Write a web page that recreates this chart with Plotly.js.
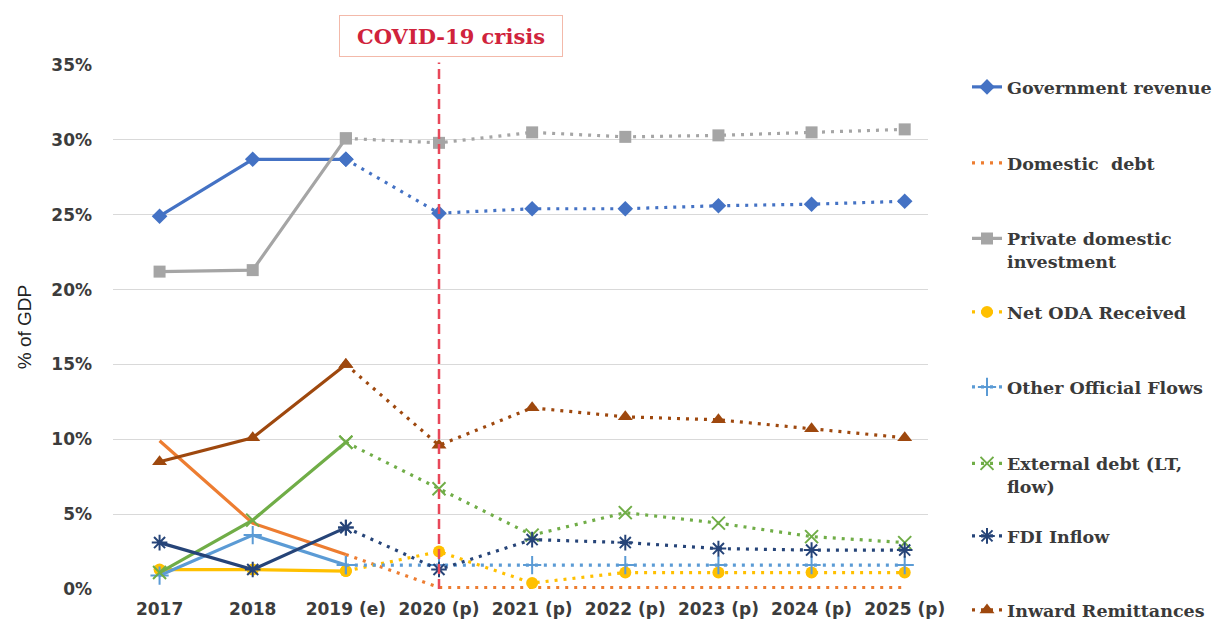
<!DOCTYPE html>
<html>
<head>
<meta charset="utf-8">
<script src="https://cdn.plot.ly/plotly-3.0.1.min.js"></script>
<style>html,body{margin:0;padding:0;background:#fff;}#chart{width:1229px;height:622px;}</style>
</head>
<body>
<div id="chart"></div>
<script>
// ---- data ----
const years = ['2017', '2018', '2019 (e)', '2020 (p)', '2021 (p)', '2022 (p)', '2023 (p)', '2024 (p)', '2025 (p)'];
const govRevenue = [24.9, 28.7, 28.7, 25.1, 25.4, 25.4, 25.6, 25.7, 25.9];
const domesticDebt = [9.9, 4.4, 2.3, 0.1, 0.1, 0.1, 0.1, 0.1, 0.1];
const privateInvestment = [21.2, 21.3, 30.1, 29.8, 30.5, 30.2, 30.3, 30.5, 30.7];
const netODA = [1.3, 1.3, 1.2, 2.5, 0.4, 1.1, 1.1, 1.1, 1.1];
const otherOfficialFlows = [0.9, 3.6, 1.6, 1.6, 1.6, 1.6, 1.6, 1.6, 1.6];
const externalDebt = [1.1, 4.6, 9.8, 6.7, 3.6, 5.1, 4.4, 3.5, 3.1];
const fdiInflow = [3.1, 1.3, 4.1, 1.3, 3.3, 3.1, 2.7, 2.6, 2.6];
const remittances = [8.5, 10.1, 15.0, 9.6, 12.1, 11.5, 11.3, 10.7, 10.1];
const seriesNames = ['Government revenue', 'Domestic  debt', 'Private domestic<br>investment', 'Net ODA Received',
  'Other Official Flows', 'External debt (LT,<br>flow)', 'FDI Inflow', 'Inward Remittances'];
const seriesValues = [govRevenue, domesticDebt, privateInvestment, netODA, otherOfficialFlows, externalDebt, fdiInflow, remittances];
const lastActual = 2; // index of last non-projected year (2019 (e))
const crisisYear = years[3];
const crisisLabel = 'COVID-19 crisis';

// ---- styles ----
const colors = ['#4472C4', '#ED7D31', '#A5A5A5', '#FFC000', '#5B9BD5', '#70AD47', '#264478', '#9E480E'];
const symbols = ['diamond', null, 'square', 'circle', 'cross-thin', 'x-thin', 'asterisk', 'triangle-up'];
const msizes = [12, 0, 12, 12, 13, 13, 13, 13];
const solidLegend = [true, false, true, false, false, false, false, false];
const legendY = [87, 163, 250, 312, 387, 475, 536, 610];

const W = 1229, H = 622;
const plotTop = 65, plotBottom = 589;
const traces = [];
seriesValues.forEach((vals, i) => {
  const legendId = i === 0 ? 'legend' : 'legend' + (i + 1);
  const sym = symbols[i];
  const thin = !!sym && (sym.indexOf('thin') >= 0 || sym === 'asterisk');
  const mode = sym ? 'lines+markers' : 'lines';
  const parts = [
    {x: years.slice(0, lastActual + 1), y: vals.slice(0, lastActual + 1), show: solidLegend[i], line: {color: colors[i], width: 3.2}},
    {x: years.slice(lastActual), y: vals.slice(lastActual), show: !solidLegend[i], line: {color: colors[i], width: 3.2, dash: '3px,6px'}}
  ];
  parts.forEach(p => {
    const t = {
      x: p.x, y: p.y, type: 'scatter', mode: mode, name: seriesNames[i], legend: legendId,
      showlegend: p.show, line: p.line, hoverinfo: 'x+y+name'
    };
    if (sym) {
      t.marker = {symbol: sym, size: msizes[i], color: colors[i], line: {color: colors[i], width: thin ? 2 : 0}};
    }
    traces.push(t);
  });
});

const legendFont = {family: 'DejaVu Serif, serif', size: 17.5, color: '#3a3a3a', weight: 'bold'};
const tickFont = {family: 'DejaVu Sans, Verdana, sans-serif', size: 17, color: '#3c3c3c', weight: 'bold'};
const layout = {
  width: W, height: H,
  margin: {l: 113, r: 301, t: plotTop, b: H - plotBottom, pad: 0},
  paper_bgcolor: '#fff', plot_bgcolor: '#fff',
  xaxis: {
    type: 'category', range: [-0.5, 8.25], showgrid: false, zeroline: false, showline: false,
    ticks: '', ticklabelstandoff: 8, tickfont: tickFont,
    automargin: false, fixedrange: true
  },
  yaxis: {
    range: [0, 35], dtick: 5, ticksuffix: '%', showgrid: true, gridcolor: '#d9d9d9', gridwidth: 1,
    zeroline: false, showline: false, ticks: '', ticklabelstandoff: 20, tickfont: tickFont,
    title: {text: '% of GDP', font: {family: 'Liberation Sans Narrow, Liberation Sans, sans-serif', size: 19, color: '#222'}, standoff: 14},
    automargin: false, fixedrange: true
  },
  shapes: [{
    type: 'line', xref: 'x', yref: 'paper', x0: crisisYear, x1: crisisYear, y0: 0, y1: 1.005,
    line: {color: '#E8485A', width: 2.5, dash: '10px,5px'}
  }],
  annotations: [{
    xref: 'x', yref: 'paper', x: crisisYear, xshift: 12, y: (plotBottom - 36) / (plotBottom - plotTop),
    yanchor: 'middle', xanchor: 'center', showarrow: false, text: crisisLabel,
    font: {family: 'DejaVu Serif, serif', size: 21, color: '#D0233C', weight: 'bold'},
    bordercolor: '#F3B9AA', borderwidth: 1, borderpad: 7, bgcolor: '#fff',
    width: 208, height: 26
  }],
  showlegend: true
};
seriesValues.forEach((v, i) => {
  const key = i === 0 ? 'legend' : 'legend' + (i + 1);
  layout[key] = {
    xref: 'container', yref: 'container',
    x: 967 / W, xanchor: 'left',
    y: 1 - legendY[i] / H, yanchor: 'middle',
    valign: 'top', bgcolor: 'rgba(0,0,0,0)', borderwidth: 0, font: legendFont,
    itemclick: false, itemdoubleclick: false
  };
});

Plotly.newPlot('chart', traces, layout, {displayModeBar: false, staticPlot: true});
</script>
</body>
</html>
